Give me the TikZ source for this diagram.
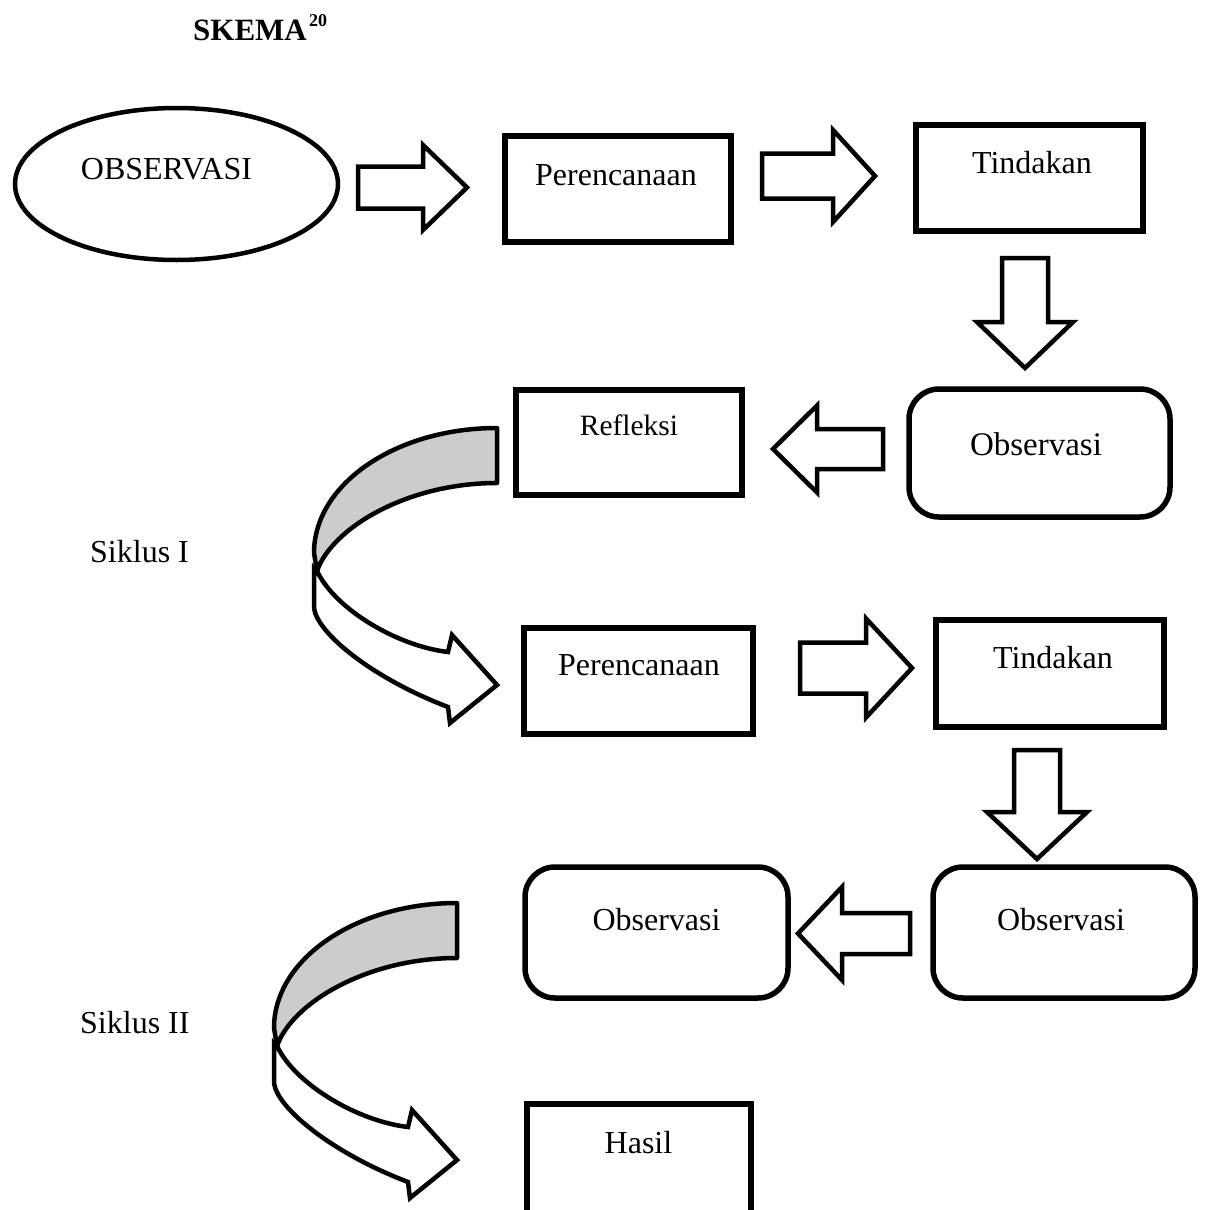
\documentclass[tikz,border=0pt]{standalone}
\usepackage{fontspec}
\setmainfont{Liberation Serif}
\usetikzlibrary{shapes.geometric}
\tikzset{
  boxline/.style={draw, line width=5.5pt, inner sep=0pt, outer sep=0pt},
  rbox/.style={boxline, rectangle},
  robox/.style={boxline, rectangle, rounded corners=30pt},
  txt/.style={inner sep=0pt, anchor=base, font=\fontsize{32}{38}\selectfont},
  blockarrow/.style={draw, fill=white, line width=4.5pt, line join=miter, miter limit=10},
  ribbonback/.style={draw, fill=black!20, line width=4.5pt, line join=round},
  ribbonfront/.style={draw, fill=white, line width=4.5pt, line join=miter, miter limit=10},
}
% right block arrow: left x, head base x, tip x, centre y, head half height, shaft half height
\newcommand\rblockarrow[6]{%
  \draw[blockarrow] (#1,#4-#6) -- (#2,#4-#6) -- (#2,#4-#5) -- (#3,#4) -- (#2,#4+#5) -- (#2,#4+#6) -- (#1,#4+#6) -- cycle;}
% left block arrow: tip x, head base x, right x, centre y, head half, shaft half
\newcommand\lblockarrow[6]{%
  \draw[blockarrow] (#3,#4-#6) -- (#2,#4-#6) -- (#2,#4-#5) -- (#1,#4) -- (#2,#4+#5) -- (#2,#4+#6) -- (#3,#4+#6) -- cycle;}
% down block arrow: centre x, top y, head base y, tip y, head half width, shaft half width
\newcommand\dblockarrow[6]{%
  \draw[blockarrow] (#1-#6,#2) -- (#1+#6,#2) -- (#1+#6,#3) -- (#1+#5,#3) -- (#1,#4) -- (#1-#5,#3) -- (#1-#6,#3) -- cycle;}
% curved ribbon arrow, origin at the top right corner of its tail
\newcommand\ribbonarrow[1]{%
  \begin{scope}[shift={#1}]
    \draw[ribbonback] (0,0) .. controls (-101,0) and (-183,56) .. (-183,125)
      -- (-180,143) .. controls (-165,100) and (-90,55) .. (0,55) -- cycle;
    \draw[ribbonfront] (-180,143) .. controls (-162,181) and (-100,218) .. (-49,224)
      -- (-45,207) -- (0,257) -- (-47,295) -- (-49,279)
      .. controls (-125,250) and (-180,205) .. (-183,180) -- (-183,140) -- cycle;
  \end{scope}}
\begin{document}
\begin{tikzpicture}[x=1pt,y=-1pt]
\clip (0,0) rectangle (1206,1210);
\fill[white] (0,0) rectangle (1206,1210);

% title
\node[inner sep=0pt, anchor=base west, font=\bfseries\fontsize{31}{36}\selectfont] (title) at (193,40) {SKEMA};
\node[inner sep=0pt, anchor=base west, font=\bfseries\fontsize{18}{20}\selectfont] (titlesup) at (309,26) {20};

% row 1
\node[draw, ellipse, line width=4.5pt, inner sep=0pt, minimum width=323, minimum height=152] (obs0) at (176.5,184) {};
\node[txt] (obs0t) at (166.5,179) {OBSERVASI};
\node[rbox, minimum width=226, minimum height=106] (per1) at (618,189) {};
\node[txt] (per1t) at (616,185) {Perencanaan};
\node[rbox, minimum width=227, minimum height=106] (tin1) at (1029.5,178) {};
\node[txt] (tin1t) at (1032,173) {Tindakan};

\rblockarrow{358}{423}{467}{187.5}{42.5}{21}
\rblockarrow{762}{833}{875}{176}{46}{22.5}
\dblockarrow{1025}{258}{322}{368}{48}{23}

% row 2
\node[robox, minimum width=261, minimum height=128] (obs1) at (1039.5,453) {};
\node[txt, font=\fontsize{33}{38}\selectfont] (obs1t) at (1036,455) {Observasi};
\node[rbox, minimum width=226, minimum height=105] (ref1) at (629,442.5) {};
\node[txt, font=\fontsize{29.5}{35}\selectfont] (ref1t) at (629,435) {Refleksi};
\lblockarrow{773}{817}{883}{449}{43.5}{20}

\ribbonarrow{(497,428)}
\node[txt, anchor=base west] (sik1) at (90,562) {Siklus I};

% row 3
\node[rbox, minimum width=229, minimum height=106] (per2) at (638.5,681) {};
\node[txt] (per2t) at (639,675) {Perencanaan};
\node[rbox, minimum width=228, minimum height=107] (tin2) at (1050,673.5) {};
\node[txt] (tin2t) at (1053,668) {Tindakan};
\rblockarrow{800}{866}{912}{668}{49.5}{25.5}
\dblockarrow{1037}{750}{812}{859}{50}{23}

% row 4
\node[robox, minimum width=263, minimum height=131] (obs2) at (656.5,932.5) {};
\node[txt] (obs2t) at (656.5,930) {Observasi};
\node[robox, minimum width=262, minimum height=131] (obs3) at (1064,932.5) {};
\node[txt] (obs3t) at (1061,930) {Observasi};
\lblockarrow{798}{842}{910}{933.5}{46.5}{20.5}

\ribbonarrow{(457,903)}
\node[txt, anchor=base west] (sik2) at (80,1033) {Siklus II};

% result
\node[rbox, minimum width=224, minimum height=112] (has) at (639,1160) {};
\node[txt] (hast) at (638.5,1153) {Hasil};
\end{tikzpicture}
\end{document}
